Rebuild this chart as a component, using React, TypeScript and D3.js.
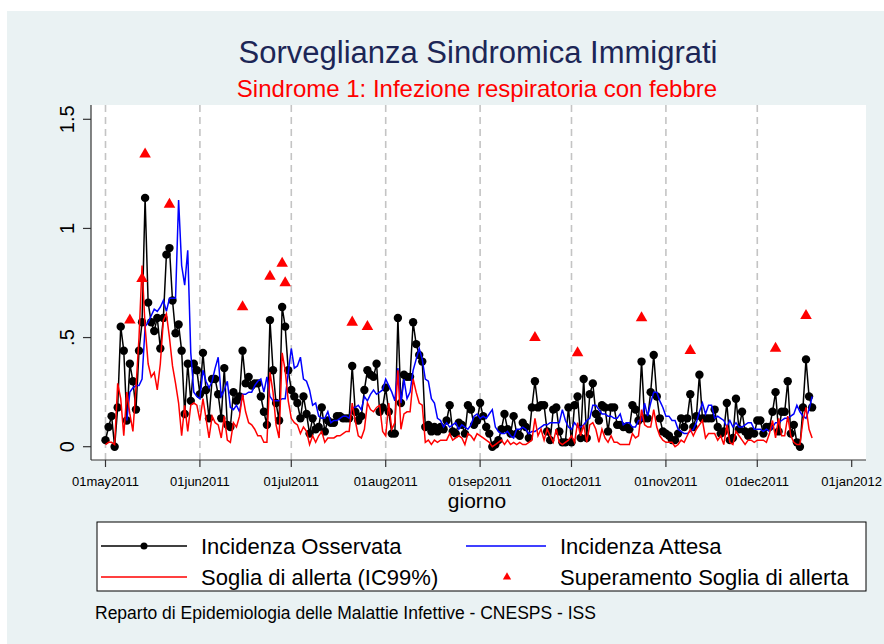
import * as d3 from "d3";

// daily values starting 01may2011
const observed = [
  0.03, 0.09, 0.14, 0.0, 0.18, 0.55, 0.44, 0.12, 0.38, 0.3,
  0.17, 0.44, 0.57, 1.14, 0.66, 0.57, 0.53, 0.59, 0.45, 0.59,
  0.88, 0.91, 0.67, 0.52, 0.56, 0.44, 0.15, 0.38, 0.21, 0.38,
  0.35, 0.24, 0.43, 0.26, 0.13, 0.31, 0.31, 0.24, 0.13, 0.36,
  0.1, 0.09, 0.25, 0.21, 0.23, 0.44, 0.29, 0.32, 0.28, 0.29,
  0.29, 0.23, 0.16, 0.1, 0.58, 0.35, 0.2, 0.12, 0.64, 0.55,
  0.35, 0.26, 0.23, 0.2, 0.13, 0.23, 0.15, 0.06, 0.13, 0.08,
  0.09, 0.18, 0.07, 0.12, 0.11, 0.11, 0.14, 0.14, 0.13, 0.13,
  0.13, 0.37, 0.16, 0.12, 0.14, 0.26, 0.35, 0.33, 0.32, 0.38,
  0.16, 0.18, 0.27, 0.16, 0.06, 0.06, 0.59, 0.2, 0.33, 0.32,
  0.32, 0.57, 0.47, 0.42, 0.39, 0.09, 0.1, 0.07, 0.09, 0.07,
  0.09, 0.08, 0.12, 0.19, 0.07, 0.06, 0.11, 0.1, 0.06, 0.19,
  0.17, 0.1, 0.12, 0.2, 0.14, 0.09, 0.06, 0.0, 0.01, 0.03,
  0.08, 0.15, 0.08, 0.06, 0.14, 0.06, 0.05, 0.11, 0.09, 0.04,
  0.18, 0.3, 0.18, 0.19, 0.19, 0.07, 0.03, 0.17, 0.18, 0.07,
  0.02, 0.02, 0.18, 0.02, 0.19, 0.23, 0.04, 0.31, 0.04, 0.24,
  0.29, 0.15, 0.12, 0.19, 0.18, 0.07, 0.18, 0.18, 0.1, 0.1,
  0.09, 0.09, 0.08, 0.19, 0.17, 0.12, 0.39, 0.13, 0.13, 0.25,
  0.42, 0.23, 0.13, 0.07, 0.06, 0.05, 0.03, 0.03, 0.06, 0.13,
  0.09, 0.13, 0.24, 0.09, 0.14, 0.33, 0.13, 0.13, 0.13, 0.13,
  0.17, 0.09, 0.06, 0.07, 0.2, 0.03, 0.04, 0.22, 0.08, 0.16,
  0.07, 0.05, 0.07, 0.06, 0.12, 0.12, 0.06, 0.09, 0.09, 0.16,
  0.25, 0.07, 0.16, 0.16, 0.3, 0.06, 0.1, 0.02, 0.0, 0.18,
  0.4, 0.23, 0.18,
];

const expected: (number | null)[] = [
  null, null, null, null, null, null, null, 0.12, 0.25, 0.27,
  0.28, 0.28, 0.31, 0.55, 0.57, 0.6, 0.63, 0.62, 0.64, 0.67,
  0.62, 0.68, 0.68, 0.68, 1.13, 0.83, 0.74, 0.9, 0.43, 0.25,
  0.23, 0.22, 0.35, 0.3, 0.27, 0.3, 0.36, 0.41, 0.23, 0.26,
  0.3, 0.18, 0.17, 0.19, 0.16, 0.24, 0.24, 0.25, 0.25, 0.28,
  0.3, 0.31, 0.25, 0.32, 0.23, 0.21, 0.21, 0.21, 0.22, 0.22,
  0.34, 0.45, 0.36, 0.37, 0.41, 0.31, 0.3, 0.26, 0.19, 0.2,
  0.14, 0.13, 0.13, 0.16, 0.11, 0.12, 0.12, 0.13, 0.14, 0.14,
  0.13, 0.18, 0.18, 0.19, 0.17, 0.23, 0.21, 0.24, 0.26, 0.24,
  0.25, 0.26, 0.31, 0.28, 0.25, 0.21, 0.36, 0.2, 0.31, 0.22,
  0.25, 0.35, 0.4, 0.45, 0.4, 0.31, 0.3, 0.22, 0.2, 0.13,
  0.12, 0.09, 0.11, 0.09, 0.1, 0.11, 0.08, 0.1, 0.09, 0.08,
  0.1, 0.14, 0.15, 0.13, 0.14, 0.13, 0.15, 0.17, 0.09, 0.07,
  0.06, 0.06, 0.07, 0.05, 0.04, 0.08, 0.08, 0.09, 0.08, 0.06,
  0.07, 0.07, 0.08, 0.09, 0.1, 0.1, 0.11, 0.11, 0.11, 0.11,
  0.17, 0.12, 0.09, 0.08, 0.11, 0.09, 0.09, 0.1, 0.12, 0.13,
  0.19, 0.19, 0.17, 0.15, 0.15, 0.14, 0.14, 0.13, 0.13, 0.15,
  0.1, 0.11, 0.11, 0.09, 0.09, 0.12, 0.12, 0.2, 0.14, 0.2,
  0.25, 0.25, 0.21, 0.18, 0.14, 0.14, 0.12, 0.12, 0.08, 0.07,
  0.06, 0.06, 0.07, 0.08, 0.11, 0.16, 0.2, 0.15, 0.19, 0.19,
  0.13, 0.14, 0.13, 0.12, 0.09, 0.12, 0.09, 0.11, 0.09, 0.09,
  0.1, 0.11, 0.11, 0.08, 0.08, 0.08, 0.07, 0.08, 0.07, 0.09,
  0.11, 0.11, 0.12, 0.13, 0.13, 0.14, 0.15, 0.19, 0.16, 0.14,
  0.13, 0.17, 0.23,
];

const threshold = [
  0.01, 0.02, 0.02, 0.01, 0.29, 0.22, 0.05, 0.25, 0.15, 0.07,
  0.27, 0.5, 0.83, 0.55, 0.38, 0.32, 0.34, 0.26, 0.38, 0.58,
  0.61, 0.5, 0.37, 0.29, 0.2, 0.05, 0.19, 0.07, 0.19, 0.2,
  0.19, 0.12, 0.22, 0.13, 0.04, 0.14, 0.11, 0.1, 0.04, 0.14,
  0.03, 0.02, 0.11, 0.09, 0.14, 0.24, 0.16, 0.11, 0.1, 0.08,
  0.05, 0.05, 0.02, 0.02, 0.34, 0.25, 0.1, 0.04, 0.43, 0.35,
  0.21, 0.13, 0.11, 0.1, 0.06, 0.09, 0.07, 0.01, 0.05, 0.02,
  0.05, 0.07, 0.02, 0.04, 0.04, 0.04, 0.05, 0.05, 0.06, 0.07,
  0.07, 0.2, 0.12, 0.05, 0.04, 0.08, 0.2, 0.17, 0.16, 0.18,
  0.19, 0.07, 0.05, 0.2, 0.08, 0.11, 0.35, 0.08, 0.15, 0.16,
  0.16, 0.31, 0.25, 0.2, 0.19, 0.02, 0.03, 0.01, 0.03, 0.02,
  0.03, 0.03, 0.03, 0.06, 0.03, 0.04, 0.05, 0.04, 0.01, 0.06,
  0.05, 0.03, 0.06, 0.05, 0.04, 0.03, 0.02, 0.0, 0.01, 0.02,
  0.03, 0.01, 0.03, 0.01, 0.02, 0.01, 0.02, 0.01, 0.01, 0.02,
  0.03, 0.13, 0.05, 0.08, 0.03, 0.08, 0.05, 0.02, 0.08, 0.02,
  0.01, 0.02, 0.03, 0.05, 0.02, 0.11, 0.05, 0.1, 0.02, 0.1,
  0.11, 0.08, 0.02, 0.08, 0.04, 0.02, 0.05, 0.02, 0.02, 0.01,
  0.01, 0.01, 0.01, 0.06, 0.04, 0.05, 0.17, 0.1, 0.09, 0.09,
  0.17, 0.09, 0.05, 0.03, 0.02, 0.02, 0.02, 0.0, 0.01, 0.03,
  0.02, 0.05, 0.08, 0.05, 0.08, 0.1, 0.12, 0.04, 0.06, 0.06,
  0.06, 0.03, 0.05, 0.01, 0.1, 0.02, 0.01, 0.07, 0.05, 0.03,
  0.01, 0.03, 0.03, 0.02, 0.03, 0.03, 0.03, 0.02, 0.06, 0.12,
  0.04, 0.13, 0.05, 0.05, 0.14, 0.05, 0.02, 0.01, 0.01, 0.12,
  0.18, 0.08, 0.04,
];

// days (offset from 01may2011) and heights of the alert markers
const alertDays = [8, 12, 13, 21, 45, 54, 58, 59, 81, 86, 141, 155, 176, 192, 220, 230];
const alertValues = [0.58, 0.77, 1.34, 1.11, 0.64, 0.78, 0.84, 0.75, 0.57, 0.55, 0.5, 0.43, 0.59, 0.44, 0.45, 0.6];

const monthTicks = [
  [2011, 4], [2011, 5], [2011, 6], [2011, 7], [2011, 8],
  [2011, 9], [2011, 10], [2011, 11], [2012, 0],
];
const monthLabels = [
  "01may2011", "01jun2011", "01jul2011", "01aug2011", "01sep2011",
  "01oct2011", "01nov2011", "01dec2011", "01jan2012",
];
const yTicks = [0, 0.5, 1, 1.5];
const yLabels = ["0", ".5", "1", "1.5"];

const font = "'Liberation Sans', Arial, sans-serif";

export default function App() {
  const start = new Date(Date.UTC(2011, 4, 1));
  const dates = observed.map((_, i) => d3.utcDay.offset(start, i));
  const tickDates = monthTicks.map(([yy, mm]) => new Date(Date.UTC(yy, mm, 1)));

  const plot = { left: 91, right: 866, top: 105, bottom: 460 };

  const x = d3
    .scaleUtc()
    .domain([tickDates[0], tickDates[tickDates.length - 1]])
    .range([105.5, 851.7]);
  const y = d3.scaleLinear().domain([0, 1.5]).range([446.7, 119.3]);

  const line = d3
    .line<number | null>()
    .defined((v) => v != null)
    .x((_, i) => x(dates[i]))
    .y((v) => y(v as number));

  const tri = d3.symbol(d3.symbolTriangle, 58)();

  return (
    <svg
      width={884}
      height={644}
      style={{ position: "absolute", left: 0, top: 0, fontFamily: font }}
    >
      <rect x={0} y={0} width={884} height={644} fill="#ffffff" />
      <rect x={7} y={11} width={877} height={633} fill="#eaf2f3" />

      <text x={478} y={63} textAnchor="middle" fontSize={31} fill="#1c2656">
        Sorveglianza Sindromica Immigrati
      </text>
      <text x={477} y={97} textAnchor="middle" fontSize={24} fill="#ff0000">
        Sindrome 1: Infezione respiratoria con febbre
      </text>

      <rect
        x={plot.left}
        y={plot.top}
        width={plot.right - plot.left}
        height={plot.bottom - plot.top}
        fill="#ffffff"
      />

      {/* month grid */}
      {tickDates.slice(0, -1).map((d, i) => (
        <line
          key={"g" + i}
          x1={x(d)}
          x2={x(d)}
          y1={plot.top}
          y2={plot.bottom}
          stroke="#c4c4c4"
          strokeWidth={1.6}
          strokeDasharray="7,5"
        />
      ))}

      {/* axes */}
      <line x1={plot.left} x2={plot.left} y1={plot.top} y2={plot.bottom} stroke="#333" strokeWidth={1.2} />
      <line x1={plot.left} x2={plot.right} y1={plot.bottom} y2={plot.bottom} stroke="#333" strokeWidth={1.2} />
      {yTicks.map((t, i) => (
        <g key={"y" + i}>
          <line x1={plot.left - 8} x2={plot.left} y1={y(t)} y2={y(t)} stroke="#333" strokeWidth={1.2} />
          <text
            transform={`translate(74,${y(t)}) rotate(-90)`}
            textAnchor="middle"
            fontSize={20}
            fill="#000"
          >
            {yLabels[i]}
          </text>
        </g>
      ))}
      {tickDates.map((d, i) => (
        <g key={"x" + i}>
          <line x1={x(d)} x2={x(d)} y1={plot.bottom} y2={plot.bottom + 7} stroke="#333" strokeWidth={1.2} />
          <text x={x(d)} y={486} textAnchor="middle" fontSize={13} fill="#000">
            {monthLabels[i]}
          </text>
        </g>
      ))}
      <text x={477} y={508} textAnchor="middle" fontSize={21} fill="#000">
        giorno
      </text>

      {/* series */}
      <path d={line(observed) ?? ""} fill="none" stroke="#000" strokeWidth={1.5} />
      {observed.map((v, i) => (
        <circle key={"o" + i} cx={x(dates[i])} cy={y(v)} r={4.2} fill="#000" />
      ))}
      <path d={line(expected) ?? ""} fill="none" stroke="#0000ff" strokeWidth={1.5} />
      <path d={line(threshold) ?? ""} fill="none" stroke="#ff0000" strokeWidth={1.5} />
      {alertDays.map((d, i) => (
        <path
          key={"a" + i}
          d={tri ?? ""}
          transform={`translate(${x(dates[d])},${y(alertValues[i])})`}
          fill="#ff0000"
        />
      ))}

      {/* legend */}
      <rect x={97} y={522} width={769} height={69} fill="#fff" stroke="#000" strokeWidth={1} />
      <line x1={101} x2={187} y1={546} y2={546} stroke="#000" strokeWidth={1.5} />
      <circle cx={144} cy={546} r={3.5} fill="#000" />
      <text x={201} y={554} fontSize={22}>Incidenza Osservata</text>
      <line x1={466} x2={546} y1={546} y2={546} stroke="#0000ff" strokeWidth={1.5} />
      <text x={560} y={554} fontSize={22}>Incidenza Attesa</text>
      <line x1={101} x2={187} y1={577} y2={577} stroke="#ff0000" strokeWidth={1.5} />
      <text x={201} y={585} fontSize={22}>Soglia di allerta (IC99%)</text>
      <path d={d3.symbol(d3.symbolTriangle, 30)() ?? ""} transform="translate(507,577)" fill="#ff0000" />
      <text x={560} y={585} fontSize={22}>Superamento Soglia di allerta</text>

      <text x={95} y={619} fontSize={17.5} fill="#000">
        Reparto di Epidemiologia delle Malattie Infettive - CNESPS - ISS
      </text>
    </svg>
  );
}
